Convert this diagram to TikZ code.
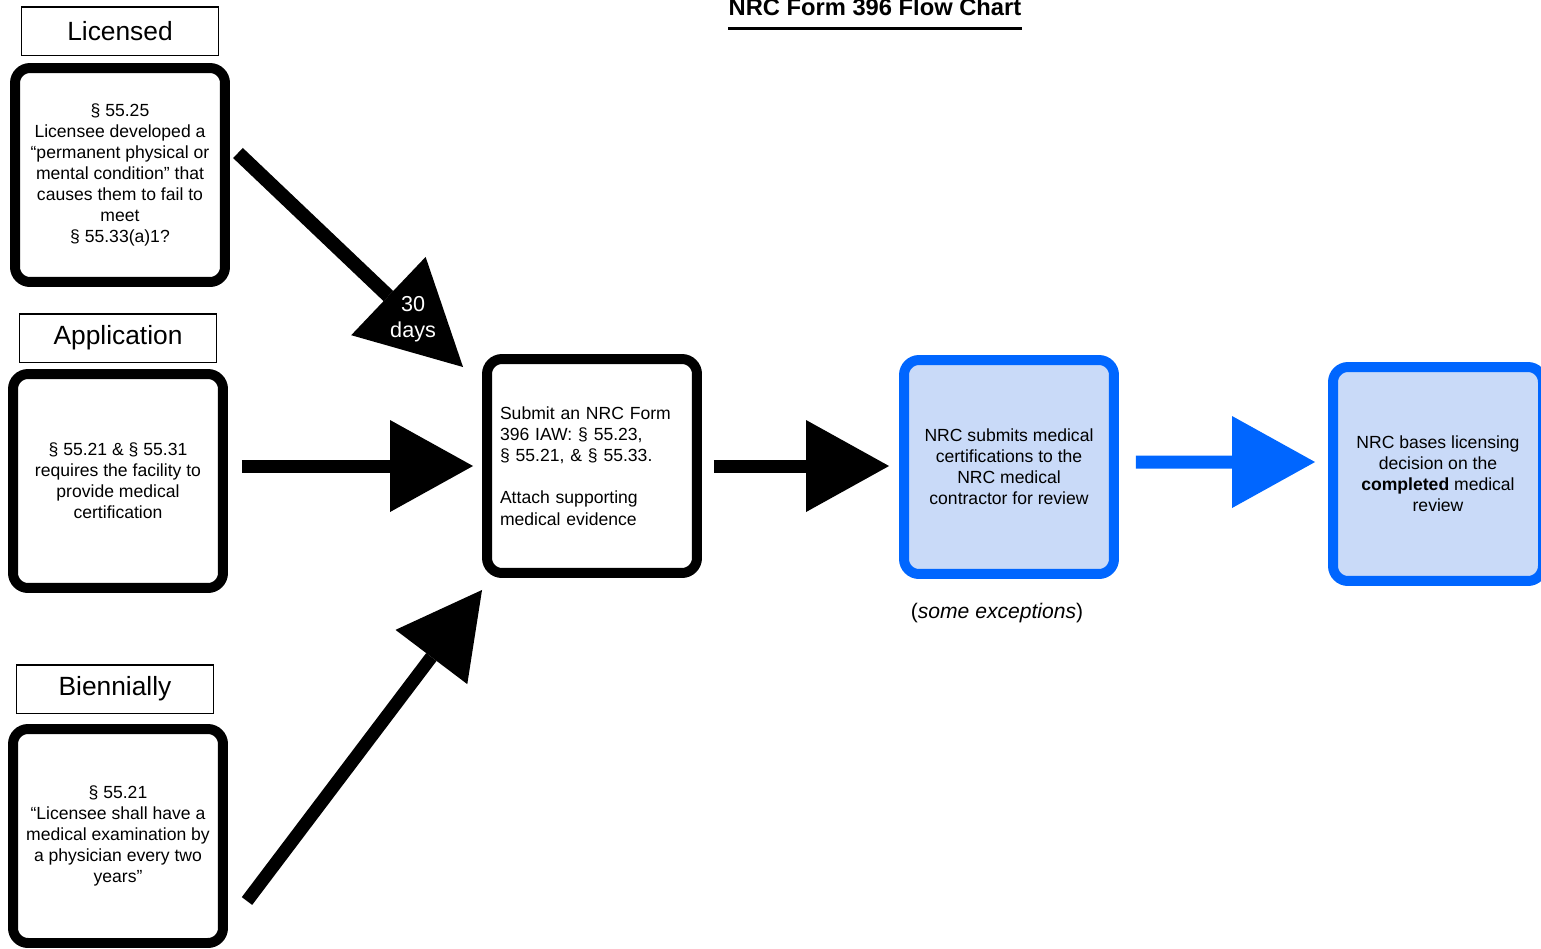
\documentclass[tikz,border=0pt]{standalone}
\usepackage{fontspec}
\setmainfont{Liberation Sans}
\usepackage{tikz}
\usetikzlibrary{arrows.meta}
\definecolor{nrcblue}{HTML}{0066FF}
\definecolor{nrcfill}{HTML}{C9DAF8}

\begin{document}
\begin{tikzpicture}[x=0.02cm,y=-0.02cm,
    tag/.style={draw,line width=0.03cm,minimum width=3.95cm,minimum height=0.97cm,inner sep=0pt,font=\fontsize{15}{18}\selectfont},
    stepbox/.style={draw,line width=0.2cm,rounded corners=0.3cm,minimum width=4.2cm,minimum height=4.28cm,align=center,font=\fontsize{10}{12}\selectfont},
    bluebox/.style={stepbox,draw=nrcblue,fill=nrcfill},
    blockarrow/.style={line width=0.26cm,-{Triangle[length=1.66cm,width=1.84cm,line width=0pt]}}]
    \useasboundingbox (0,0) rectangle (1541,948);
    \node[anchor=base,inner sep=0pt,font=\bfseries\fontsize{13.5}{16}\selectfont] (title) at (875,15) {NRC Form 396 Flow Chart};
    \draw[line width=0.06cm] ([yshift=-0.27cm]title.base west) -- ([yshift=-0.27cm]title.base east);

    \node[tag] (liclabel) at (120,31) {Licensed};
    \node[tag] (applabel) at (118,338) {Application};
    \node[tag] (bienlabel) at (115,689) {Biennially};

    \node[stepbox] (lic) at (120,175) {§ 55.25\\Licensee developed a\\“permanent physical or\\mental condition” that\\causes them to fail to\\meet\\§ 55.33(a)1?};
    \node[stepbox] (app) at (118,481) {§ 55.21 \& § 55.31\\requires the facility to\\provide medical\\certification};
    \node[stepbox] (bien) at (118,836) {§ 55.21\\“Licensee shall have a\\medical examination by\\a physician every two\\years”};
    \node[stepbox,align=left,text width=3.68cm] (sub) at (592,466) {Submit an NRC Form\\396 IAW: § 55.23,\\§ 55.21, \& § 55.33.\\[12pt]Attach supporting\\medical evidence};
    \node[bluebox] (review) at (1009,467) {NRC submits medical\\certifications to the\\NRC medical\\contractor for review};
    \node[bluebox] (decide) at (1438,474) {NRC bases licensing\\decision on the\\\textbf{completed} medical\\review};
    \node[font=\fontsize{12}{14}\selectfont] (note) at (997,613) {(\textit{some exceptions})};

    \draw[line width=0.28cm,-{Triangle[length=2.06cm,width=2.16cm,line width=0pt]}] ([shift={(8,-22)}]lic.east) -- ([shift={(-19,13)}]sub.north west)
        node[pos=0.778,text=white,align=center,font=\fontsize{12.3}{14.8}\selectfont] (days) {30\\days};
    \draw[blockarrow,shorten <=0.28cm,shorten >=0.18cm] (app.east |- sub.west) -- (sub.west);
    \draw[blockarrow,shorten <=0.24cm,shorten >=0.2cm] (sub.east) -- (sub.east -| review.west);
    \draw[blockarrow,nrcblue,shorten <=0.34cm,shorten >=0.26cm] ([yshift=0.1cm]review.east) -- ([yshift=0.24cm]decide.west);
    \draw[blockarrow,-{Triangle[length=1.68cm,width=1.8cm,line width=0pt]}] ([shift={(19,65)}]bien.east) -- ([shift={(0,12)}]sub.south west);
\end{tikzpicture}
\end{document}
